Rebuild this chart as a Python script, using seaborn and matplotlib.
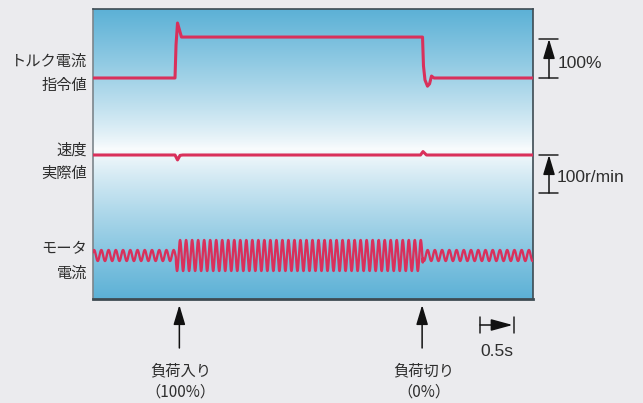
import numpy as np
import pandas as pd
import matplotlib
matplotlib.use("Agg")
import matplotlib.pyplot as plt
from matplotlib.patches import FancyArrowPatch
import seaborn as sns

# ---- data -------------------------------------------------------------
# torque current command [%] against time [s]
torque_t = [0.0, 1.206, 1.221, 1.243, 1.301, 4.846, 4.860, 4.882, 4.919, 4.949, 4.978, 5.015, 6.47]
torque_pct = [0, 0, 85, 141, 105, 105, 31, -5, -21, -15, 5, 0, 0]

# actual speed deviation [r/min] against time [s]
speed_t = [0.0, 1.206, 1.243, 1.280, 1.320, 4.816, 4.853, 4.904, 6.47]
speed_rpm = [0, 0, -13, -1, 0, 0, 9, 0, 0]

# motor current: no load / loaded / no load
load_on_s = 1.22
load_off_s = 4.85
current_amp = [5.5, 15.5, 5.5]
current_freq_hz = [9.4, 11.3, 9.4]

# labels
row_labels = [("トルク電流", "指令値"), ("速度", "実際値"), ("モータ", "電流")]
event_labels = [("負荷入り", "（100%）"), ("負荷切り", "（0%）")]
torque_scale_label = "100%"
speed_scale_label = "100r/min"
time_scale_label = "0.5s"
time_scale_s = 0.5
torque_scale_pct = 100
speed_scale_rpm = 100

# ---- layout -----------------------------------------------------------
W, H = 643, 403
T_END = 6.4706
AX_H = 290.0
TORQUE_BASE, TORQUE_GAIN = 221.0, 0.39
SPEED_BASE, SPEED_GAIN = 144.0, 0.38
CURRENT_BASE = 43.5
RED = "#d9305b"
INK = "#2e2e2e"
BG = "#ebebee"
JP_SIZE = 11

sns.set_style("white", rc={"figure.facecolor": BG, "axes.facecolor": BG})
plt.rcParams["font.family"] = ["Noto Sans CJK JP", "DejaVu Sans"]

fig = plt.figure(figsize=(W / 100, H / 100), dpi=100)
ax = fig.add_axes([93 / W, 104 / H, 440 / W, 290 / H])
ax.set_xlim(0, T_END)
ax.set_ylim(0, AX_H)

# background gradient: blue -> white -> blue
ys = np.linspace(AX_H, 0, 400)
blue = np.array([92, 177, 214]) / 255.0
white = np.array([250, 252, 253]) / 255.0
w_center = 150.0
frac = np.where(ys >= w_center, (ys - w_center) / (AX_H - w_center), (w_center - ys) / w_center)
frac = np.clip(frac, 0, 1) ** 0.85
grad = white[None, :] * (1 - frac[:, None]) + blue[None, :] * frac[:, None]
ax.imshow(grad[:, None, :], extent=[0, T_END, 0, AX_H], aspect="auto", zorder=0,
          interpolation="bilinear")

# torque command trace
df_torque = pd.DataFrame({"t": torque_t,
                          "y": TORQUE_BASE + TORQUE_GAIN * np.array(torque_pct, float)})
sns.lineplot(data=df_torque, x="t", y="y", ax=ax, sort=False, estimator=None,
             color=RED, lw=2.2, zorder=3)

# speed trace
df_speed = pd.DataFrame({"t": speed_t,
                         "y": SPEED_BASE + SPEED_GAIN * np.array(speed_rpm, float)})
sns.lineplot(data=df_speed, x="t", y="y", ax=ax, sort=False, estimator=None,
             color=RED, lw=2.2, zorder=3)

# motor current (phase-continuous sine with stepwise amplitude / frequency)
t = np.linspace(0, T_END, 4000)
seg = np.where(t < load_on_s, 0, np.where(t < load_off_s, 1, 2))
freq = np.array(current_freq_hz)[seg]
amp = np.array(current_amp)[seg]
phase = 2 * np.pi * np.concatenate([[0], np.cumsum(freq[:-1] * np.diff(t))])
df_cur = pd.DataFrame({"t": t, "y": CURRENT_BASE + amp * np.sin(phase + 0.6)})
sns.lineplot(data=df_cur, x="t", y="y", ax=ax, sort=False, estimator=None,
             color=RED, lw=1.7, zorder=3)

ax.set_xticks([])
ax.set_yticks([])
ax.set_xlabel("")
ax.set_ylabel("")
for name, sp in ax.spines.items():
    sp.set_visible(True)
    sp.set_color("#3e4b52")
    sp.set_linewidth(1.2)
ax.spines["bottom"].set_linewidth(2.0)
ax.spines["left"].set_color("#7c858b")


def arrow(p0, p1, hl=1.0, hw=0.3, scale=12):
    a = FancyArrowPatch(p0, p1, arrowstyle=f"-|>,head_length={hl},head_width={hw}",
                        mutation_scale=scale, color="#111111", lw=1.1,
                        shrinkA=0, shrinkB=0, clip_on=False, zorder=5)
    ax.add_patch(a)


def bar(x0, x1, y0, y1):
    ax.plot([x0, x1], [y0, y1], color="#222222", lw=1.1, clip_on=False, zorder=5)


num_font = ["Liberation Sans", "DejaVu Sans"]

# vertical scale bars on the right
bx0, bx1, bxm = 6.559, 6.838, 6.706
t_top = TORQUE_BASE + TORQUE_GAIN * torque_scale_pct
bar(bx0, bx1, TORQUE_BASE, TORQUE_BASE)
bar(bx0, bx1, t_top, t_top)
arrow((bxm, TORQUE_BASE), (bxm, t_top))
ax.text(bx1, 236, torque_scale_label, ha="left", va="center", color=INK,
        fontsize=12.5, family=num_font)

s_bot = SPEED_BASE - SPEED_GAIN * speed_scale_rpm
bar(bx0, bx1, SPEED_BASE, SPEED_BASE)
bar(bx0, bx1, s_bot, s_bot)
arrow((bxm, s_bot), (bxm, SPEED_BASE))
ax.text(bx1 - 0.015, 121.5, speed_scale_label, ha="left", va="center", color=INK,
        fontsize=12.5, family=num_font)

# time scale bar
tx0 = 5.691
bar(tx0, tx0, -18, -34)
bar(tx0 + time_scale_s, tx0 + time_scale_s, -18, -34)
arrow((tx0, -26), (tx0 + time_scale_s - 0.02, -26), hl=1.1, hw=0.3)
ax.text(tx0 + time_scale_s / 2, -52, time_scale_label, ha="center", va="center",
        color=INK, fontsize=12.5, family=num_font)

# load event arrows and captions
for te, (l1, l2) in zip([load_on_s + 0.05, load_off_s - 0.01], event_labels):
    arrow((te, -49), (te, -6))
    ax.text(te + 0.02, -72, l1, ha="center", va="center", color=INK, fontsize=JP_SIZE)
    ax.text(te + 0.02, -93, l2, ha="center", va="center", color=INK, fontsize=JP_SIZE)

# row labels on the left
for (l1, l2), (y1, y2) in zip(row_labels, [(61, 85), (150, 173), (249, 273)]):
    fig.text(87 / W, 1 - y1 / H, l1, ha="right", va="center", color=INK, fontsize=JP_SIZE)
    fig.text(87 / W, 1 - y2 / H, l2, ha="right", va="center", color=INK, fontsize=JP_SIZE)

fig.savefig("out.png", dpi=100, facecolor=BG)
